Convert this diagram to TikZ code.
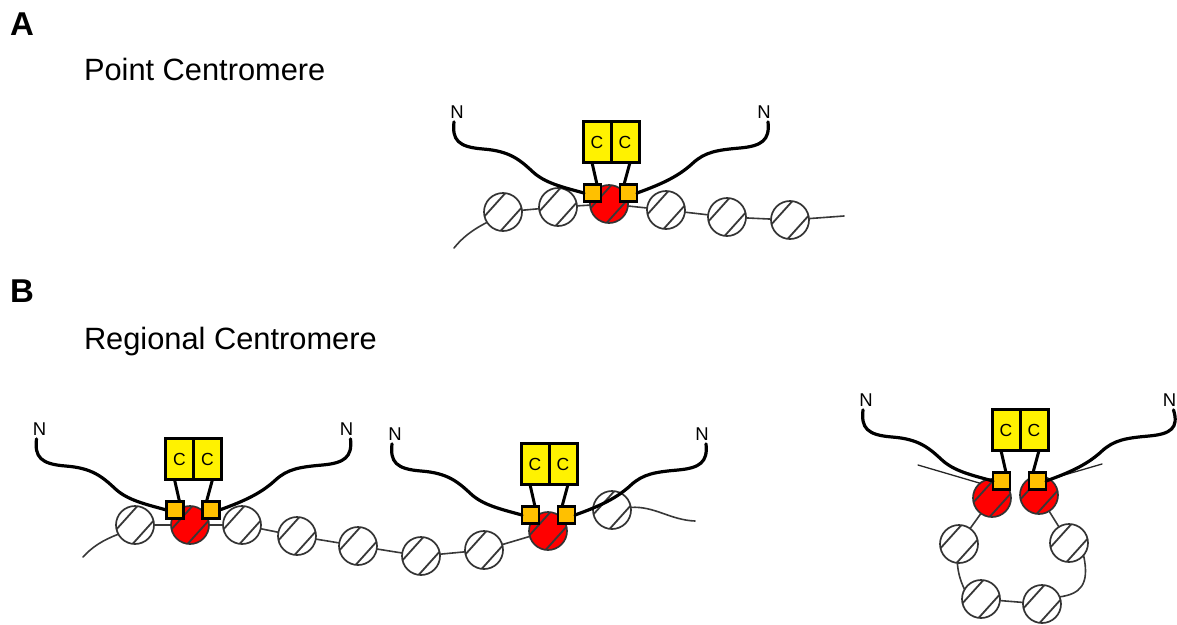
\documentclass[tikz,border=0pt]{standalone}
\usepackage{fontspec}
\setmainfont{Liberation Sans}
\definecolor{amberfill}{HTML}{FFC000}
\begin{document}
\begin{tikzpicture}[x=1pt,y=-1pt,
  every node/.style={inner sep=0pt,outer sep=0pt},
  nuc/.style={circle,draw=black!80,line width=1.7pt,fill=#1,minimum size=38pt,
    path picture={
      \draw[black!78,line width=1.8pt]
        ([shift={(83:19pt)}]path picture bounding box.center) --
        ([shift={(193:19pt)}]path picture bounding box.center)
        ([shift={(13:19pt)}]path picture bounding box.center) --
        ([shift={(-97:19pt)}]path picture bounding box.center);
    }},
  nuc/.default=white,
  linker/.style={draw=black!78,line width=1.6pt,line cap=round},
  thinline/.style={draw=black!85,line width=1.3pt,line cap=round},
  strand/.style={draw=black,line width=3.2pt,line cap=round},
  stem/.style={draw=black,line width=3pt},
  cbox/.style={draw=black,line width=3pt,fill=yellow,minimum width=28pt,minimum height=41pt,font=\fontsize{17.5}{17.5}\selectfont},
  osq/.style={draw=black,line width=2.8pt,fill=amberfill,minimum size=17pt},
  endlabel/.style={font=\fontsize{18.5}{18.5}\selectfont},
  rightlabel/.style={},
  title/.style={anchor=base west,font=\fontsize{30.8}{30.8}\selectfont},
  panel/.style={font=\bfseries\fontsize{33}{33}\selectfont},
  dimer/.pic={
    \node[cbox] (-cL) at (-14,21) {C};
    \node[cbox] (-cR) at (14,21) {C};
    \node[osq] (-oL) at (-18.5,72) {};
    \node[osq] (-oR) at (17.5,72) {};
    \node[endlabel] (-nL) at (-154,-9) {N};
    \node[endlabel,rightlabel] (-nR) at (153,-9) {N};
    \draw[stem] ([xshift=-5pt]-cL.south) -- ([xshift=4.5pt]-oL.north);
    \draw[stem] ([xshift=5pt]-cR.south) -- ([xshift=-4.5pt]-oR.north);
    \draw[strand] ([xshift=-3pt,yshift=-3.5pt]-nL.south) .. controls (-159,19) and (-153,26) .. (-128,28)
      .. controls (-101,30) and (-91,39) .. (-78,51)
      .. controls (-66,62) and (-49,66) .. (-oL.west);
    \draw[strand] ([xshift=4pt,yshift=-3.5pt]-nR.south) .. controls (159,19) and (151,25) .. (129,27)
      .. controls (106,29) and (94,31) .. (82,42)
      .. controls (69,54) and (54,62) .. (-oR.east);
  }]
\useasboundingbox (0,0) rectangle (1177,624);

% panel headings
\node[panel] (pa) at (22,24) {A};
\node[panel] (pb) at (22,291) {B};
\node[title] (ta) at (84,80) {Point Centromere};
\node[title] (tb) at (84,349) {Regional Centromere};

% point centromere: nucleosome array
\node[nuc] (a1) at (503,212) {};
\node[nuc] (a2) at (558,207) {};
\node[nuc=red] (ar) at (609,204) {};
\node[nuc] (a3) at (666,210) {};
\node[nuc] (a4) at (727,217) {};
\node[nuc] (a5) at (790,220) {};
\coordinate (as) at (454,248);
\coordinate (ae) at (844,216);
\draw[linker] (as) .. controls (462,238) and (472,230) .. (a1.213);
\draw[linker] (a1) -- (a2);
\draw[linker] (a2) -- (ar);
\draw[linker] (ar) -- (a3);
\draw[linker] (a3) -- (a4);
\draw[linker] (a4) -- (a5);
\draw[linker] (a5) -- (ae);
\pic (da) at (611,121) {dimer};

% regional centromere: extended array
\node[nuc] (b1) at (135,525) {};
\node[nuc=red] (br1) at (190,525) {};
\node[nuc] (b2) at (242,525) {};
\node[nuc] (b3) at (297,536) {};
\node[nuc] (b4) at (358,546) {};
\node[nuc] (b5) at (421,556) {};
\node[nuc] (b6) at (484,550) {};
\node[nuc=red] (br2) at (548,531) {};
\node[nuc] (b7) at (612,510) {};
\coordinate (bs) at (83,557);
\coordinate (be) at (695,521);
\draw[linker] (bs) .. controls (92,547) and (103,540) .. (b1.209);
\draw[linker] (b1) -- (br1);
\draw[linker] (br1) -- (b2);
\draw[linker] (b2) -- (b3);
\draw[linker] (b3) -- (b4);
\draw[linker] (b4) -- (b5);
\draw[linker] (b5) -- (b6);
\draw[linker] (b6) -- (br2);
\draw[linker] (b7.8) .. controls (655,506) and (670,520) .. (be);
\pic (db1) at (193.5,438) {dimer};
\pic (db2) at (549,443) {dimer};

% regional centromere: looped array
\node[nuc=red] (cr1) at (992,498) {};
\node[nuc=red] (cr2) at (1039,495) {};
\node[nuc] (c1) at (959,544) {};
\node[nuc] (c2) at (981,599) {};
\node[nuc] (c3) at (1042,604) {};
\node[nuc] (c4) at (1069,543) {};
\coordinate (cs) at (918,465);
\coordinate (ce) at (1102,464);
\draw[thinline] (cs) -- (cr1.129);
\draw[thinline] (ce) -- (cr2.56);
\draw[linker] (cr1) -- (c1);
\draw[linker] (cr2) -- (c4);
\draw[linker] (c1.265) .. controls (958,572) and (960,580) .. (c2.150);
\draw[linker] (c2) -- (c3);
\draw[linker] (c3.22) .. controls (1080,594) and (1090,585) .. (c4.-40);
% the right end label is pulled in so it stays on the page
\pic[rightlabel/.style={xshift=-3.5pt}] (dc) at (1020,409) {dimer};
\end{tikzpicture}
\end{document}
